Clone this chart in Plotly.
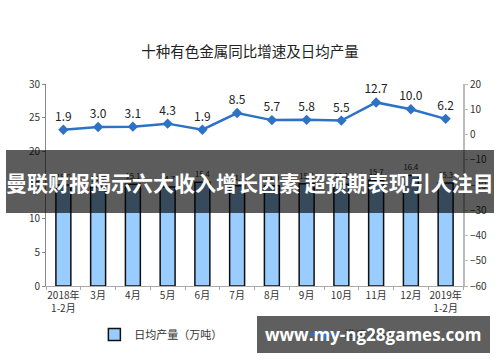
import plotly.graph_objects as go

categories = ["2018年<br>1-2月", "3月", "4月", "5月", "6月", "7月", "8月", "9月", "10月", "11月", "12月", "2019年<br>1-2月"]
daily_output = [15.0, 14.7, 15.1, 14.7, 15.4, 14.9, 14.9, 15.2, 15.1, 15.7, 16.4, 15.3]
growth_rate = [1.9, 3.0, 3.1, 4.3, 1.9, 8.5, 5.7, 5.8, 5.5, 12.7, 10.0, 6.2]

title_text = "十种有色金属同比增速及日均产量"
bar_name = "日均产量（万吨）"
line_name = "增速（%）"
banner_text = "曼联财报揭示六大收入增长因素 超预期表现引人注目"
watermark_text = "www.my-ng28games.com"

CJK = "Noto Sans CJK SC"

fig = go.Figure()
fig.add_trace(go.Bar(
    x=categories, y=daily_output, name=bar_name,
    marker=dict(color="#99ccff", line=dict(color="#111111", width=1.5)),
    width=0.43,
    text=[f"{v:.1f}" for v in daily_output], textposition="outside",
    textfont=dict(size=11, color="#222222", family=CJK),
    cliponaxis=False, yaxis="y",
))
fig.add_trace(go.Scatter(
    x=categories, y=growth_rate, name=line_name, yaxis="y2",
    mode="lines+markers+text",
    line=dict(color="#2e72c6", width=2.5),
    marker=dict(symbol="diamond", size=8, color="#2e72c6"),
    text=[f"{v:.1f}" for v in growth_rate], textposition="top center",
    textfont=dict(size=12, color="#222222", family=CJK),
    cliponaxis=False,
))

axis_font = dict(size=10, color="#333333", family=CJK)
fig.update_layout(
    width=500, height=362,
    margin=dict(l=46, r=37, t=84, b=76, autoexpand=False),
    paper_bgcolor="white", plot_bgcolor="white",
    font=dict(family=CJK, color="#333333"),
    title=dict(text=title_text, x=0.5, xanchor="center", y=1 - 52 / 362, yanchor="middle",
               font=dict(size=14.5, color="#222222", family=CJK)),
    showlegend=True,
    legend=dict(orientation="h", x=0.116, xanchor="left", y=-0.24, yanchor="middle",
                font=dict(size=11, color="#333333", family=CJK), bgcolor="rgba(0,0,0,0)",
                itemwidth=30, entrywidth=165, entrywidthmode="pixels"),
    bargap=0.5,
    xaxis=dict(range=[-0.5, len(categories) - 0.5], showline=True, linecolor="#aaaaaa",
               linewidth=1, ticks="outside", tickson="boundaries", ticklen=3, tickangle=0,
               tickcolor="#aaaaaa", showgrid=False, tickfont=axis_font, zeroline=False),
    yaxis=dict(range=[0, 30], dtick=5, showline=True, linecolor="#888888", linewidth=1,
               ticks="outside", ticklen=3, tickcolor="#888888", showgrid=False,
               tickfont=axis_font, zeroline=False),
    yaxis2=dict(range=[-60, 20], dtick=10, overlaying="y", side="right", showline=True,
                linecolor="#bbbbbb", linewidth=2, ticks="outside", ticklen=3,
                tickcolor="#bbbbbb", showgrid=False, tickfont=axis_font, zeroline=False),
)

# overlay banner
fig.add_shape(type="rect", xref="paper", yref="paper",
              x0=(6 - 46) / 417, x1=(494 - 46) / 417,
              y0=(286 - 213) / 202, y1=(286 - 150) / 202,
              fillcolor="rgba(0,0,0,0.64)", line=dict(width=0), layer="above")
fig.add_annotation(text=f"<b>{banner_text}</b>", xref="paper", yref="paper",
                   x=(250 - 46) / 417, y=(286 - 182) / 202, xanchor="center", yanchor="middle",
                   showarrow=False, font=dict(size=21, color="white", family=CJK))

# watermark box
fig.add_shape(type="rect", xref="paper", yref="paper",
              x0=(257 - 46) / 417, x1=(490 - 46) / 417,
              y0=(286 - 353) / 202, y1=(286 - 316) / 202,
              fillcolor="rgba(60,60,60,0.82)", line=dict(width=0), layer="above")
fig.add_annotation(text=f"<b>{watermark_text}</b>", xref="paper", yref="paper",
                   x=(373 - 46) / 417, y=(286 - 334) / 202, xanchor="center", yanchor="middle",
                   showarrow=False, font=dict(size=17, color="white", family="Open Sans"))

fig.write_html("out.html", config={"displayModeBar": False},
               post_script="document.body.style.margin='0px';")
